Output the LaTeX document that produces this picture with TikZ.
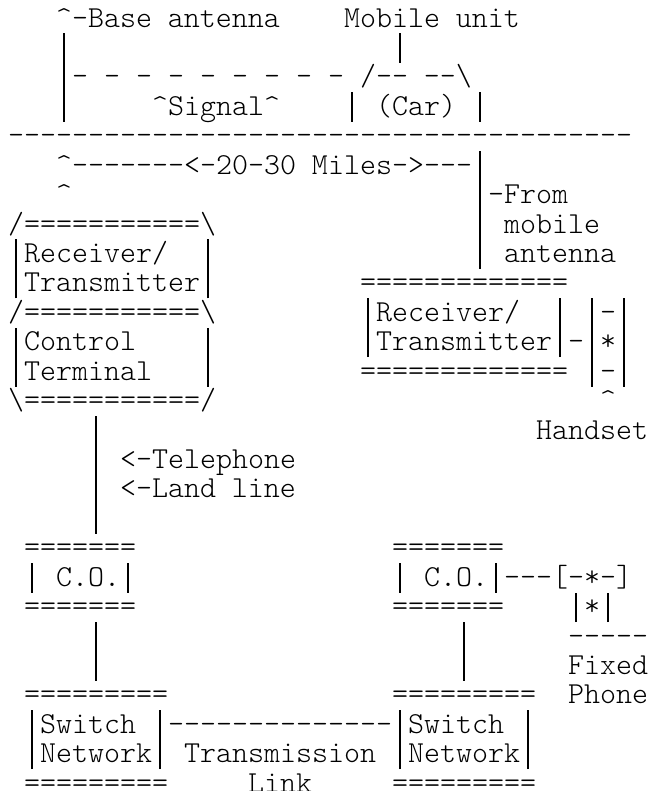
\documentclass[tikz,border=0pt]{standalone}
\usepackage{fontspec}
\setmonofont{Latin Modern Mono Light}
% vertical bar that fills the whole row, so stacked bars join up
\newcommand{\vbar}{\leavevmode\setbox0\hbox{x}%
  \hbox to \wd0{\hss\rule[-0.21em]{0.045em}{0.9656em}\hss}}
\begin{document}
\begin{tikzpicture}[x=12pt, y=-22.0725pt,
    txt/.style={anchor=base west, inner sep=0pt, outer sep=0pt,
      font=\ttfamily\fontsize{22.86pt}{22pt}\selectfont}]
  \useasboundingbox (-0.5,0.0826) rectangle (40.0625,26.96);
  %% ── Base antenna, mobile unit, signal ────────────────────
  \node[txt] (baseant) at (3,1)  {\textasciicircum-Base antenna};
  \node[txt] (mobunit) at (21,1) {Mobile unit};
  \node[txt] (mastA)   at (3,2)  {\vbar};
  \node[txt] (carmast) at (24,2) {\vbar};
  \node[txt] (signal)  at (3,3)  {\vbar- - - - - - - - -};
  \node[txt] (carroof) at (22,3) {/-- --\textbackslash};
  \node[txt] (mastB)   at (3,4)  {\vbar};
  \node[txt] (siglbl)  at (9,4)  {\textasciicircum Signal\textasciicircum};
  \node[txt] (carbody) at (21,4) {\vbar{} (Car) \vbar};
  %% ── Ground line and range ───────────────────────────────
  \node[txt] (ground)  at (0,5)  {---------------------------------------};
  \node[txt] (range)   at (3,6)  {\textasciicircum-------<-20-30 Miles->---\vbar};
  \node[txt] (tipA)    at (3,7)  {\textasciicircum};
  \node[txt] (fromA)   at (29,7) {\vbar-From};
  \node[txt] (fromB)   at (29,8) {\vbar{} mobile};
  \node[txt] (fromC)   at (29,9) {\vbar{} antenna};
  %% ── Base station: receiver/transmitter + control terminal
  \node[txt] (bsTop)   at (0,8)  {/===========\textbackslash};
  \node[txt] (bsRx)    at (0,9)  {\vbar Receiver/};
  \node[txt] (bsRxR)   at (12,9) {\vbar};
  \node[txt] (bsTx)    at (0,10) {\vbar Transmitter\vbar};
  \node[txt] (bsMid)   at (0,11) {/===========\textbackslash};
  \node[txt] (bsCtl)   at (0,12) {\vbar Control};
  \node[txt] (bsCtlR)  at (12,12) {\vbar};
  \node[txt] (bsTerm)  at (0,13) {\vbar Terminal};
  \node[txt] (bsTermR) at (12,13) {\vbar};
  \node[txt] (bsBot)   at (0,14) {\textbackslash===========/};
  %% ── Mobile receiver/transmitter + handset ───────────────
  \node[txt] (mbTop)   at (22,10) {=============};
  \node[txt] (mbRx)    at (22,11) {\vbar Receiver/};
  \node[txt] (mbRxR)   at (34,11) {\vbar{} \vbar-\vbar};
  \node[txt] (mbTx)    at (22,12) {\vbar Transmitter\vbar-\vbar*\vbar};
  \node[txt] (mbBot)   at (22,13) {============= \vbar-\vbar};
  \node[txt] (hsTip)   at (37,14) {\textasciicircum};
  \node[txt] (handset) at (33,15) {Handset};
  %% ── Land line ───────────────────────────────────────────
  \node[txt] (landA)   at (5,15) {\vbar};
  \node[txt] (landB)   at (5,16) {\vbar{} <-Telephone};
  \node[txt] (landC)   at (5,17) {\vbar{} <-Land line};
  \node[txt] (landD)   at (5,18) {\vbar};
  %% ── Central offices and fixed phone ─────────────────────
  \node[txt] (coAtop)  at (1,19)  {=======};
  \node[txt] (coA)     at (1,20)  {\vbar{} C.O.\vbar};
  \node[txt] (coAbot)  at (1,21)  {=======};
  \node[txt] (coBtop)  at (24,19) {=======};
  \node[txt] (coB)     at (24,20) {\vbar{} C.O.\vbar---[-*-]};
  \node[txt] (coBbot)  at (24,21) {=======};
  \node[txt] (phStem)  at (35,21) {\vbar*\vbar};
  \node[txt] (phBase)  at (35,22) {-----};
  \node[txt] (phFix)   at (35,23) {Fixed};
  \node[txt] (phPhone) at (35,24) {Phone};
  \node[txt] (trkAa)   at (5,22)  {\vbar};
  \node[txt] (trkAb)   at (5,23)  {\vbar};
  \node[txt] (trkBa)   at (28,22) {\vbar};
  \node[txt] (trkBb)   at (28,23) {\vbar};
  %% ── Switch networks and transmission link ───────────────
  \node[txt] (swAtop)  at (1,24)  {=========};
  \node[txt] (swBtop)  at (24,24) {=========};
  \node[txt] (swLink)  at (1,25)  {\vbar Switch \vbar--------------\vbar Switch \vbar};
  \node[txt] (swNet)   at (1,26)  {\vbar Network\vbar{} Transmission \vbar Network\vbar};
  \node[txt] (swAbot)  at (1,27)  {=========};
  \node[txt] (linkLbl) at (15,27) {Link};
  \node[txt] (swBbot)  at (24,27) {=========};
\end{tikzpicture}
\end{document}
